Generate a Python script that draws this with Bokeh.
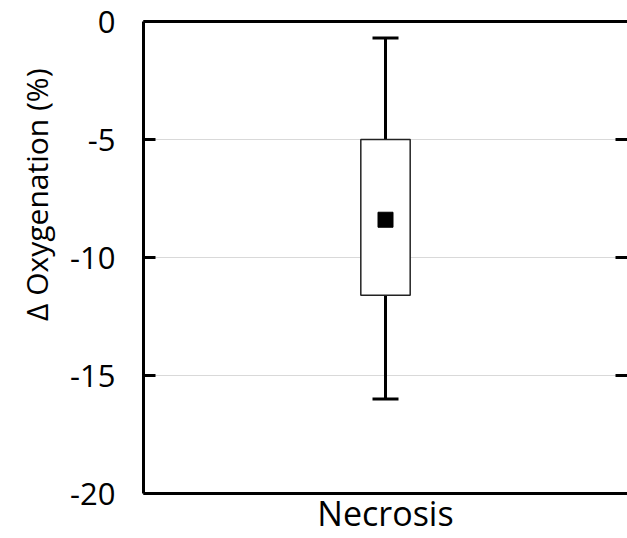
from bokeh.plotting import figure
from bokeh.models import Range1d, LinearAxis, CategoricalAxis, FixedTicker, ColumnDataSource, Title
from bokeh.embed import file_html
from bokeh.resources import INLINE

categories = ["Necrosis"]
q1 = [-11.6]
q3 = [-5.0]
lower = [-16.0]
upper = [-0.7]
mean = [-8.4]
y_ticks = [-20, -15, -10, -5, 0]
y_title = "Δ Oxygenation (%)"

src = ColumnDataSource(dict(cat=categories, q1=q1, q3=q3, lower=lower, upper=upper, mean=mean))

FONT = "Open Sans"

p = figure(width=627, height=538, x_range=categories, y_range=Range1d(-20, 0),
           output_backend="svg", toolbar_location=None,
           min_border_left=143, min_border_right=0, min_border_top=21, min_border_bottom=0)
p.outline_line_color = None
p.background_fill_color = "white"
p.border_fill_color = "white"

# whiskers
p.segment(x0="cat", y0="q3", x1="cat", y1="upper", source=src, line_color="black", line_width=3)
p.segment(x0="cat", y0="lower", x1="cat", y1="q1", source=src, line_color="black", line_width=3)
p.scatter(x="cat", y="upper", source=src, marker="dash", size=26, line_color="black", line_width=3)
p.scatter(x="cat", y="lower", source=src, marker="dash", size=26, line_color="black", line_width=3)
# box
p.vbar(x="cat", top="q3", bottom="q1", width=0.102, source=src,
       fill_color="white", line_color="#222222", line_width=1.5)
# mean
p.scatter(x="cat", y="mean", source=src, marker="square", size=15,
          fill_color="black", line_color="black")

# grid
p.xgrid.grid_line_color = None
p.ygrid.grid_line_color = "#d9d9d9"
p.ygrid.grid_line_width = 1.2
p.ygrid.ticker = FixedTicker(ticks=y_ticks)

# left axis
ya = p.yaxis[0]
ya.ticker = FixedTicker(ticks=y_ticks)
ya.major_label_overrides = {t: str(t) for t in y_ticks}
ya.axis_line_width = 3
ya.axis_line_color = "black"
ya.major_tick_line_width = 3
ya.major_tick_in = 12
ya.major_tick_out = 0
ya.minor_tick_line_color = None
ya.major_label_standoff = 28
ya.major_label_text_font = FONT
ya.major_label_text_font_size = "31px"
ya.major_label_text_color = "black"
ya.axis_label = None

# y title, set towards the top of the left side as in the reference
p.add_layout(Title(text=y_title, align="right", offset=47, text_font=FONT,
                   text_font_size="30px", text_font_style="normal",
                   text_color="black", standoff=22), "left")

# bottom axis
xa = p.xaxis[0]
xa.axis_label = None
xa.axis_line_width = 3
xa.axis_line_color = "black"
xa.major_tick_line_color = None
xa.minor_tick_line_color = None
xa.major_label_standoff = -10
xa.major_label_text_line_height = 0.8
xa.major_label_text_font = FONT
xa.major_label_text_font_size = "34px"
xa.major_label_text_color = "black"

# top border
top = CategoricalAxis(ticker=FixedTicker(ticks=[]))
top.axis_line_width = 3
top.axis_line_color = "black"
top.major_tick_line_color = None
top.minor_tick_line_color = None
top.major_label_standoff = 0
p.add_layout(top, "above")

# right ticks
ra = LinearAxis(ticker=FixedTicker(ticks=y_ticks))
ra.axis_line_color = None
ra.major_tick_line_width = 3
ra.major_tick_in = 12
ra.major_tick_out = 0
ra.minor_tick_line_color = None
ra.major_label_overrides = {t: "" for t in y_ticks}
ra.major_label_standoff = -10
p.add_layout(ra, "right")

open("out.html", "w").write(file_html(p, INLINE))
